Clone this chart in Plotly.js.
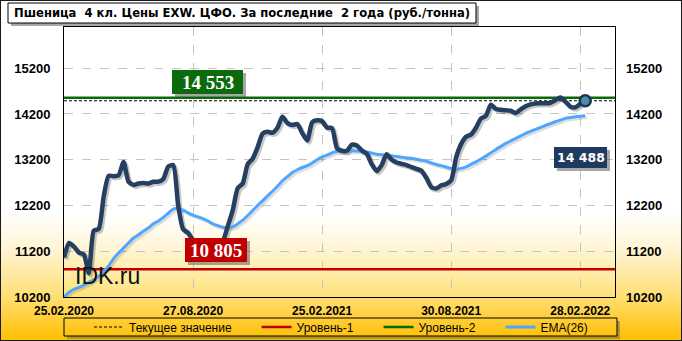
<!DOCTYPE html>
<html><head><meta charset="utf-8">
<script src="https://cdn.plot.ly/plotly-3.0.1.min.js"></script>
<style>
html,body{margin:0;padding:0;background:#fff;}
#wrap{position:relative;width:682px;height:341px;
background:linear-gradient(to bottom,#ffffff 0px,#ffffff 212px,#fff4d2 250px,#ffdf78 295px,#ffc61a 330px,#ffc000 341px);}
#chart{width:682px;height:341px;}
#frame{position:absolute;left:0;top:0;width:682px;height:341px;box-sizing:border-box;border:1px solid #1a1a1a;pointer-events:none;}
</style></head><body>
<div id="wrap"><div id="chart"></div><div id="frame"></div></div>
<script>
// ---- data ----
const tickIdx = [0, 26, 52, 78, 104];
const tickLabels = ['25.02.2020', '27.08.2020', '25.02.2021', '30.08.2021', '28.02.2022'];
const yTicks = [10200, 11200, 12200, 13200, 14200, 15200];

const price = [
 11062,11380,11300,11170,11130,10720,11650,11690,12400,12850,
 12840,12860,13150,12720,12650,12680,12690,12680,12720,12720,
 12780,13050,13080,12200,11680,11600,11440,11350,11250,11200,
 11250,11350,11420,11750,12100,12580,12680,13100,13220,13470,
 13770,13810,13790,13900,14140,14000,13960,13980,13780,13620,
 14020,14060,14040,13900,13890,13450,13395,13395,13530,13510,
 13400,13330,13100,12950,13082,13322,13200,13140,13110,13082,
 13040,13000,12960,12800,12600,12570,12640,12670,12750,13250,
 13540,13700,13750,13900,14100,14160,14400,14310,14290,14280,
 14270,14220,14300,14370,14410,14430,14432,14432,14445,14500,
 14560,14470,14360,14344,14420,14488];

const ema26 = [
 10200,10300,10370,10410,10460,10520,10580,10650,10760,10880,
 11040,11160,11270,11380,11490,11560,11640,11710,11800,11860,
 11940,12030,12120,12140,12097,12040,11988,11950,11915,11860,
 11800,11760,11725,11720,11732,11800,11878,11980,12090,12200,
 12300,12410,12510,12620,12740,12830,12920,12980,13030,13070,
 13130,13200,13260,13300,13350,13378,13385,13390,13395,13393,
 13380,13370,13345,13320,13310,13300,13285,13270,13255,13240,
 13230,13210,13190,13169,13130,13095,13070,13040,13010,12990,
 13010,13044,13100,13154,13215,13278,13350,13425,13490,13556,
 13610,13666,13720,13775,13820,13862,13905,13950,13990,14029,
 14065,14103,14120,14138,14150,14160];

const currentValue = 14488;
const level1 = 10805;
const level2 = 14553;

const seriesNames = ['Текущее значение', 'Уровень-1', 'Уровень-2', 'EMA(26)'];
const titleText = 'Пшеница  4 кл. Цены EXW. ЦФО. За последние  2 года (руб./тонна)';

// ---- layout helpers ----
const W = 682, H = 341;
const M = {l: 64, r: 67, t: 27, b: 44, autoexpand: false};
const PW = W - M.l - M.r, PH = H - M.t - M.b;
const px = x => (x - M.l) / PW;
const py = y => (H - M.b - y) / PH;
const xRange = [0, 111];
const yRange = [10200, 16100];
const shX = 2 * (xRange[1] - xRange[0]) / PW;
const shY = 2 * (yRange[1] - yRange[0]) / PH;

const idx = price.map((_, i) => i);
const fmt = v => String(v).replace(/\B(?=(\d{3})+(?!\d))/g, ' ');
const pad = n => '\u00a0'.repeat(n);

const traces = [
  {x: idx, y: price, xaxis: 'x', yaxis: 'y', mode: 'lines', showlegend: false, hoverinfo: 'skip',
   line: {color: 'rgba(0,0,0,0.22)', width: 4.5, shape: 'spline', smoothing: 0.6}},
  {x: idx, y: ema26, xaxis: 'x', yaxis: 'y', mode: 'lines', showlegend: false, hoverinfo: 'skip',
   line: {color: 'rgba(0,0,0,0.13)', width: 3, shape: 'spline', smoothing: 0.6}},
  {x: xRange, y: [currentValue, currentValue], xaxis: 'x2', yaxis: 'y2', mode: 'lines',
   name: seriesNames[0] + pad(6), line: {color: '#000', width: 1, dash: '3px,2px'}},
  {x: xRange, y: [level1, level1], xaxis: 'x2', yaxis: 'y2', mode: 'lines',
   name: seriesNames[1] + pad(6), line: {color: '#c00000', width: 2.5}},
  {x: xRange, y: [level2, level2], xaxis: 'x2', yaxis: 'y2', mode: 'lines',
   name: seriesNames[2] + pad(6), line: {color: '#0a6a0a', width: 2.5}},
  {x: idx, y: ema26, xaxis: 'x2', yaxis: 'y2', mode: 'lines', name: seriesNames[3],
   line: {color: '#4da6ff', width: 3, shape: 'spline', smoothing: 0.6}},
  {x: idx, y: price, xaxis: 'x2', yaxis: 'y2', mode: 'lines', showlegend: false,
   line: {color: '#243f60', width: 4.5, shape: 'spline', smoothing: 0.6}},
  {x: [idx[idx.length - 1]], y: [price[price.length - 1]], xaxis: 'x2', yaxis: 'y2', mode: 'markers',
   showlegend: false, marker: {size: 11, color: '#4a8fa8', line: {color: '#1c3557', width: 2.5}}},
  {x: [idx[0]], y: [yRange[0]], xaxis: 'x2', yaxis: 'y3', mode: 'lines', showlegend: false, hoverinfo: 'skip'}
];

const SH = 'rgba(80,80,80,0.5)';
function boxShapes(b, fill, line) {
  return [
    {type: 'rect', xref: 'paper', yref: 'paper', layer: 'above', x0: px(b[0] + 3), x1: px(b[1] + 3), y0: py(b[2] + 3), y1: py(b[3] + 3),
     fillcolor: SH, line: {width: 0}},
    {type: 'rect', xref: 'paper', yref: 'paper', layer: 'above', x0: px(b[0]), x1: px(b[1]), y0: py(b[2]), y1: py(b[3]),
     fillcolor: fill, line: line || {width: 0}}
  ];
}
function label(text, b, font) {
  return {xref: 'paper', yref: 'paper', x: px((b[0] + b[1]) / 2), y: py((b[2] + b[3]) / 2),
    xanchor: 'center', yanchor: 'middle', showarrow: false, text: text, font: font};
}

const titleBox = [8, 476, 3, 23];
const boxL2 = [172, 243, 70, 94];
const boxL1 = [185, 247, 238, 262];
const boxCur = [554, 607, 147, 168];

const serifFont = {family: 'Liberation Serif, serif', size: 19, weight: 'bold', color: '#fff'};
const annotations = [
  {xref: 'paper', yref: 'paper', x: px(titleBox[0] + 4), y: py(13.5), xanchor: 'left', yanchor: 'middle',
   showarrow: false, text: titleText,
   font: {family: 'DejaVu Sans, Verdana, sans-serif', size: 11.6, weight: 'bold', color: '#000'}},
  label(fmt(level2), boxL2, serifFont),
  label(fmt(level1), boxL1, serifFont),
  label(fmt(currentValue), boxCur, {family: 'DejaVu Sans, sans-serif', size: 12.5, weight: 'bold', color: '#fff'}),
  {xref: 'paper', yref: 'paper', x: px(73), y: py(276), xanchor: 'left', yanchor: 'middle', showarrow: false,
   text: 'IDK.ru', font: {family: 'Liberation Sans, Arial, sans-serif', size: 23, color: '#111'}}
];

const L = {x0: 64, x1: 617, y0: 318, y1: 336};
const shapes = [
  ...boxShapes(titleBox, '#fff', {color: '#000', width: 1}),
  ...boxShapes(boxL2, '#0b6a0b'),
  ...boxShapes(boxL1, '#c00000'),
  ...boxShapes(boxCur, '#1f3a5f'),
  {type: 'rect', xref: 'paper', yref: 'paper', x0: px(L.x1), x1: px(L.x1 + 3), y0: py(L.y0 + 3), y1: py(L.y1 + 3),
   fillcolor: 'rgba(90,90,90,0.45)', line: {width: 0}},
  {type: 'rect', xref: 'paper', yref: 'paper', x0: px(L.x0 + 3), x1: px(L.x1), y0: py(L.y1), y1: py(L.y1 + 3),
   fillcolor: 'rgba(90,90,90,0.45)', line: {width: 0}},
  {type: 'rect', xref: 'paper', yref: 'paper', x0: px(L.x0), x1: px(L.x1), y0: py(L.y0), y1: py(L.y1),
   fillcolor: 'rgba(0,0,0,0)', line: {color: '#000', width: 1}}
];

const gradSvg = "<svg xmlns='http://www.w3.org/2000/svg' width='100' height='100' preserveAspectRatio='none'>" +
  "<defs><linearGradient id='g' x1='0' y1='0' x2='0' y2='1'>" +
  "<stop offset='0' stop-color='#ffffff'/><stop offset='0.7' stop-color='#ffffff'/>" +
  "<stop offset='0.82' stop-color='#fff5d6'/><stop offset='1' stop-color='#ffe27a'/></linearGradient></defs>" +
  "<rect width='100' height='100' fill='url(#g)'/></svg>";

const tickFontY = {family: 'Liberation Sans, Arial, sans-serif', size: 13, weight: 'bold', color: '#000'};
const tickFontX = {family: 'Liberation Sans, Arial, sans-serif', size: 12, weight: 'bold', color: '#000'};

const layout = {
  width: W, height: H, margin: M,
  paper_bgcolor: 'rgba(0,0,0,0)', plot_bgcolor: 'rgba(0,0,0,0)',
  showlegend: true,
  legend: {orientation: 'h', x: px(341), xanchor: 'center', y: py(327), yanchor: 'middle',
    bgcolor: 'rgba(0,0,0,0)', borderwidth: 0,
    font: {family: 'Liberation Sans, Arial, sans-serif', size: 12, color: '#000'}},
  xaxis: {range: [xRange[0] - shX, xRange[1] - shX], visible: false, fixedrange: true},
  yaxis: {range: [yRange[0] + shY, yRange[1] + shY], visible: false, fixedrange: true},
  xaxis2: {overlaying: 'x', anchor: 'y2', range: xRange, tickmode: 'array', tickvals: tickIdx, ticktext: tickLabels,
    showgrid: true, gridcolor: '#c4c4c4', griddash: 'dash', gridwidth: 1, zeroline: false,
    showline: true, mirror: true, linecolor: '#000', linewidth: 1, ticks: '', tickfont: tickFontX, ticklabelstandoff: 3},
  yaxis2: {overlaying: 'y', anchor: 'x2', side: 'left', range: yRange, tickmode: 'array', tickvals: yTicks, tickformat: 'd',
    showgrid: true, gridcolor: '#c4c4c4', griddash: 'dash', gridwidth: 1, zeroline: false,
    showline: true, mirror: true, linecolor: '#000', linewidth: 1, ticks: '', tickfont: tickFontY, ticklabelstandoff: 10},
  yaxis3: {overlaying: 'y', anchor: 'x2', side: 'right', range: yRange, tickmode: 'array', tickvals: yTicks, tickformat: 'd',
    showgrid: false, zeroline: false, showline: false, ticks: '', tickfont: tickFontY, ticklabelstandoff: 10},
  images: [{source: 'data:image/svg+xml;charset=utf-8,' + encodeURIComponent(gradSvg), xref: 'paper', yref: 'paper',
    x: 0, y: 1, sizex: 1, sizey: 1, xanchor: 'left', yanchor: 'top', sizing: 'stretch', layer: 'below'}],
  annotations: annotations,
  shapes: shapes
};

Plotly.newPlot('chart', traces, layout, {staticPlot: true, displayModeBar: false});
</script></body></html>
